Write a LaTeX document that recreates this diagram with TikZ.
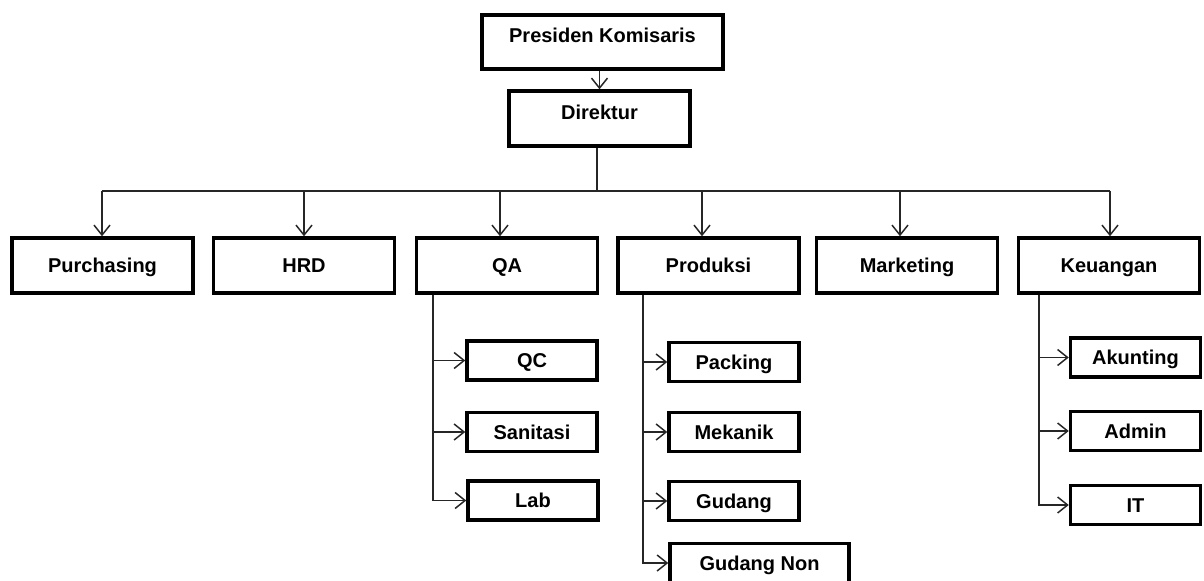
\documentclass[tikz,border=0pt]{standalone}
\usepackage{fontspec}
\setmainfont{Liberation Sans}
\usetikzlibrary{arrows.meta}

\begin{document}
\begin{tikzpicture}[x=0.75pt, y=-0.75pt,
    box/.style={draw=black, line width=2.6pt, rectangle, inner sep=0pt, font=\fontsize{15}{18}\selectfont\bfseries, text height=10.8pt, text depth=0pt},
    topbox/.style={box, minimum width=135.75pt, minimum height=41.25pt},
    subbox/.style={box, minimum width=97.5pt, minimum height=29.5pt},
    headbox/.style={box, text depth=10pt},
    link/.style={draw=black!85, line width=1.1pt},
    arr/.style={link, -{Straight Barb[length=7.5pt, width=12pt, line width=1.1pt]}}]
    \useasboundingbox (0,0) rectangle (1204,581);
    \clip (0,0) rectangle (1204,581);
    % pimpinan
    \node[headbox, minimum width=180.75pt, minimum height=40.5pt] (pk) at (602.5,42) {Presiden Komisaris};
    \node[headbox, minimum width=135.75pt, minimum height=41.25pt] (dir) at (599.5,118.5) {Direktur};
    % bagian
    \node[topbox] (pur) at (102.5,265.5) {Purchasing};
    \node[topbox] (hrd) at (304,265.5) {HRD};
    \node[topbox] (qa) at (507,265.5) {QA};
    \node[topbox] (prod) at (708.5,265.5) {Produksi};
    \node[topbox] (mkt) at (907,265.5) {Marketing};
    \node[topbox] (keu) at (1109,265.5) {Keuangan};
    % sub bagian QA
    \node[subbox] (qc) at (532,360.5) {QC};
    \node[subbox] (san) at (532,432) {Sanitasi};
    \node[subbox] (lab) at (533,500.5) {Lab};
    % sub bagian Produksi
    \node[subbox] (pack) at (734,362) {Packing};
    \node[subbox] (mek) at (734,432) {Mekanik};
    \node[subbox] (gud) at (734,501) {Gudang};
    \node[subbox, minimum width=134.25pt] (gnon) at (759.5,563) {Gudang Non};
    % sub bagian Keuangan
    \node[subbox] (aku) at (1135.5,357.5) {Akunting};
    \node[subbox] (adm) at (1135.5,431) {Admin};
    \node[subbox] (it) at (1135.5,505) {IT};
    % garis
    \coordinate (bus) at (597,191);
    \coordinate (qat) at (433,0);
    \coordinate (prt) at (643,0);
    \coordinate (kut) at (1039,0);
    \draw[arr] (dir.north |- pk.south) -- (dir.north);
    \draw[link] (dir.south -| bus) -- (bus);
    \draw[link] ([xshift=-0.5]pur.north |- bus) -- ([xshift=1]keu.north |- bus);
    \foreach \b/\dx in {pur/-0.5,hrd/0,qa/-7,prod/-6.5,mkt/-7,keu/1}
        \draw[arr] ([xshift=\dx*0.75pt]\b.north |- bus) -- ([xshift=\dx*0.75pt]\b.north);
    \foreach \s in {qc,san,lab}
        \draw[arr] (qa.south -| qat) |- (\s.west);
    \foreach \s in {pack,mek,gud,gnon}
        \draw[arr] (prod.south -| prt) |- (\s.west);
    \foreach \s in {aku,adm,it}
        \draw[arr] (keu.south -| kut) |- (\s.west);
\end{tikzpicture}
\end{document}
